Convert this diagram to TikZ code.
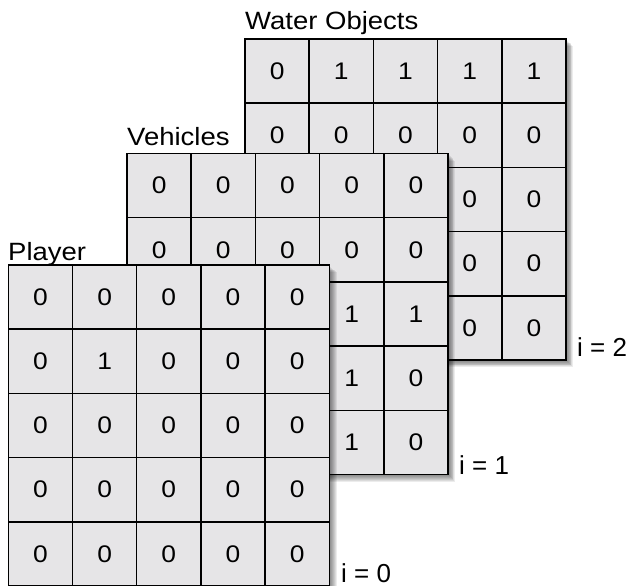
\documentclass[tikz,border=0pt]{standalone}
\usepackage{fontspec}
\setmainfont{Liberation Sans}[FakeStretch=1.1]
\newfontfamily\idxfont{Liberation Sans}
\definecolor{cellgray}{RGB}{230,229,231}
\newcommand\gshadow[2]{%
  \foreach \d in {1,...,8}{\fill[black,opacity=0.075] (#1+\d*0.9,#2+\d*0.9) rectangle ++(321,321);}}
\begin{document}
\begin{tikzpicture}[x=1pt,y=-1pt,
  cell/.style={draw,line width=1.5pt,fill=cellgray,minimum width=64.2pt,minimum height=64.2pt,
    inner sep=0pt,outer sep=0pt,font=\fontsize{24}{27}\selectfont},
  lab/.style={inner sep=0pt,anchor=base west,font=\fontsize{25}{28}\selectfont},
  idx/.style={inner sep=0pt,anchor=base west,font=\idxfont\fontsize{26}{29}\selectfont}]
\useasboundingbox (0,0) rectangle (630,586);
\fill[white] (0,0) rectangle (630,586);
% grid i = 2
\gshadow{245}{39}
\foreach \row [count=\r from 0] in {{0,1,1,1,1},{0,0,0,0,0},{{},{},{},0,0},{{},{},{},0,0},{{},{},{},0,0}}{
  \foreach \v [count=\c from 0] in \row {
    \node[cell] (w\r\c) at (245+32.1+\c*64.2,39+32.1+\r*64.2) {\v};}}
\node[lab] (lw) at (245,30) {Water Objects};
\node[idx] (i2) at (577,356) {i = 2};
% grid i = 1
\gshadow{127}{153.5}
\foreach \row [count=\r from 0] in {{0,0,0,0,0},{0,0,0,0,0},{{},{},{},1,1},{{},{},{},1,0},{{},{},{},1,0}}{
  \foreach \v [count=\c from 0] in \row {
    \node[cell] (v\r\c) at (127+32.1+\c*64.2,153.5+32.1+\r*64.2) {\v};}}
\node[lab] (lv) at (127,146) {Vehicles};
\node[idx] (i1) at (459,474) {i = 1};
% grid i = 0
\gshadow{8.3}{265}
\foreach \row [count=\r from 0] in {{0,0,0,0,0},{0,1,0,0,0},{0,0,0,0,0},{0,0,0,0,0},{0,0,0,0,0}}{
  \foreach \v [count=\c from 0] in \row {
    \node[cell] (p\r\c) at (8.3+32.1+\c*64.2,265+32.1+\r*64.2) {\v};}}
\node[lab] (lp) at (8,260) {Player};
\node[idx] (i0) at (341,582) {i = 0};
\end{tikzpicture}
\end{document}
